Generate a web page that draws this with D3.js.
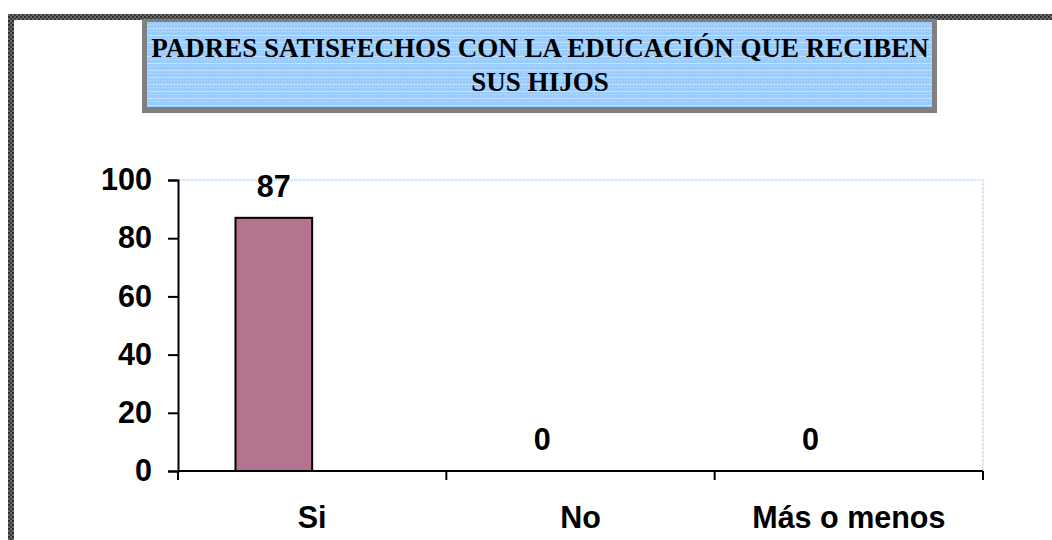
<!DOCTYPE html>
<html>
<head>
<meta charset="utf-8">
<script src="https://cdn.jsdelivr.net/npm/d3@7"></script>
<style>
  html, body { margin: 0; padding: 0; background: #fff; }
  svg { display: block; }
</style>
</head>
<body>
<div id="chart"></div>
<script>
// chart data
var categories = ['Si', 'No', 'Más o menos'];
var values = [87, 0, 0];
var yTicks = [0, 20, 40, 60, 80, 100];
var seriesSlots = ['serie1', 'serie2']; // excel layout: two slots per category, only the first is used
var titleLines = ['PADRES SATISFECHOS CON LA EDUCACIÓN QUE RECIBEN', 'SUS HIJOS'];

var vWidth = 1052,
  vHeight = 540,
  margin = { top: 180, right: 69, bottom: 69, left: 178 },
  width = vWidth - margin.left - margin.right,
  height = vHeight - margin.top - margin.bottom;

var svg = d3
  .select('#chart')
  .append('svg')
  .attr('width', vWidth)
  .attr('height', vHeight);

var defs = svg.append('defs');

// checkered frame texture
var chk = defs
  .append('pattern')
  .attr('id', 'chk')
  .attr('width', 4)
  .attr('height', 4)
  .attr('patternUnits', 'userSpaceOnUse');
chk.append('rect').attr('width', 4).attr('height', 4).attr('fill', '#6a6a6a');
chk.append('rect').attr('width', 2).attr('height', 2).attr('fill', '#2e2e2e');
chk.append('rect').attr('x', 2).attr('y', 2).attr('width', 2).attr('height', 2).attr('fill', '#3a3a3a');

// blue title texture
var blue = defs
  .append('pattern')
  .attr('id', 'blue')
  .attr('width', 6)
  .attr('height', 7)
  .attr('patternUnits', 'userSpaceOnUse');
blue.append('rect').attr('width', 6).attr('height', 7).attr('fill', '#99ccff');
blue.append('rect').attr('y', 0).attr('width', 6).attr('height', 1).attr('fill', '#c4e2ff');
blue.append('rect').attr('x', 0).attr('y', 3).attr('width', 1).attr('height', 1).attr('fill', '#c4e2ff');
blue.append('rect').attr('x', 3).attr('y', 3).attr('width', 1).attr('height', 1).attr('fill', '#c4e2ff');

// outer frame (left and top only visible)
svg.append('rect').attr('x', 8).attr('y', 14).attr('width', vWidth - 8).attr('height', 6).attr('fill', 'url(#chk)');
svg.append('rect').attr('x', 8).attr('y', 14).attr('width', 6).attr('height', vHeight - 14).attr('fill', 'url(#chk)');

// title box
svg.append('rect')
  .attr('x', 142).attr('y', 19).attr('width', 795).attr('height', 94)
  .attr('fill', '#808080');
svg.append('rect')
  .attr('x', 147).attr('y', 22).attr('width', 785).attr('height', 85)
  .attr('fill', 'url(#blue)');

svg.selectAll('.title')
  .data(titleLines)
  .enter()
  .append('text')
  .attr('class', 'title')
  .attr('x', 540)
  .attr('y', function(d, i) {
    return 57 + i * 34;
  })
  .attr('text-anchor', 'middle')
  .style('font-family', '"Liberation Serif", "Times New Roman", serif')
  .style('font-weight', 'bold')
  .style('font-size', '27px')
  .attr('fill', '#000')
  .text(function(d) {
    return d;
  });

var g = svg
  .append('g')
  .attr('transform', 'translate(' + margin.left + ',' + margin.top + ')');

var x = d3.scaleBand().domain(categories).range([0, width]).padding(0);
var xs = d3
  .scaleBand()
  .domain(seriesSlots)
  .range([0, x.bandwidth()])
  .paddingInner(0)
  .paddingOuter(0.75);
var y = d3.scaleLinear().domain([0, 100]).range([height, 0]);

var font = '"Liberation Sans", Arial, sans-serif';
var fontSize = '30.5px';

// plot area border (light blue, top and right)
g.append('path')
  .attr('d', 'M0,' + y(100) + 'H' + width + 'V' + y(0))
  .attr('fill', 'none')
  .attr('stroke', '#c6e0fa')
  .attr('stroke-width', 1.5)
  .attr('stroke-dasharray', '3,1');

// bars (zero values drawn as nothing)
g.selectAll('.bar')
  .data(categories.filter(function(d, i) { return values[i] > 0; }))
  .enter()
  .append('rect')
  .attr('class', 'bar')
  .attr('x', function(d) {
    return x(d) + xs('serie1');
  })
  .attr('y', function(d) {
    return y(values[categories.indexOf(d)]);
  })
  .attr('width', xs.bandwidth())
  .attr('height', function(d) {
    return y(0) - y(values[categories.indexOf(d)]);
  })
  .attr('fill', '#b47490')
  .attr('stroke', '#000')
  .attr('stroke-width', 2);

// y axis
var yAxis = g
  .append('g')
  .attr('class', 'y-axis')
  .call(d3.axisLeft(y).tickValues(yTicks).tickSize(10).tickPadding(16));
yAxis.select('.domain').attr('stroke', '#000').attr('stroke-width', 2);
yAxis.selectAll('line').attr('stroke', '#000').attr('stroke-width', 2);
yAxis.selectAll('text')
  .style('font-family', font)
  .style('font-size', fontSize)
  .style('font-weight', 'bold')
  .attr('fill', '#000');

// x axis line and ticks between categories
g.append('line')
  .attr('x1', 0).attr('x2', width)
  .attr('y1', y(0)).attr('y2', y(0))
  .attr('stroke', '#000').attr('stroke-width', 2);

var bounds = categories.map(function(d) { return x(d); }).concat([width]);
g.selectAll('.xtick')
  .data(bounds)
  .enter()
  .append('line')
  .attr('class', 'xtick')
  .attr('x1', function(d) { return d; })
  .attr('x2', function(d) { return d; })
  .attr('y1', y(0))
  .attr('y2', y(0) + 9)
  .attr('stroke', '#000')
  .attr('stroke-width', 2);

g.selectAll('.xlabel')
  .data(categories)
  .enter()
  .append('text')
  .attr('class', 'xlabel')
  .attr('x', function(d) { return x(d) + x.bandwidth() / 2; })
  .attr('y', y(0) + 57)
  .attr('text-anchor', 'middle')
  .style('font-family', font)
  .style('font-size', fontSize)
  .style('font-weight', 'bold')
  .attr('fill', '#000')
  .text(function(d) { return d; });

// value labels
g.selectAll('.label')
  .data(categories)
  .enter()
  .append('text')
  .attr('class', 'label')
  .attr('x', function(d) { return x(d) + xs('serie1') + xs.bandwidth() / 2; })
  .attr('y', function(d, i) { return y(values[i]) - 21; })
  .attr('text-anchor', 'middle')
  .style('font-family', font)
  .style('font-size', fontSize)
  .style('font-weight', 'bold')
  .attr('fill', '#000')
  .text(function(d, i) { return values[i]; });
</script>
</body>
</html>
